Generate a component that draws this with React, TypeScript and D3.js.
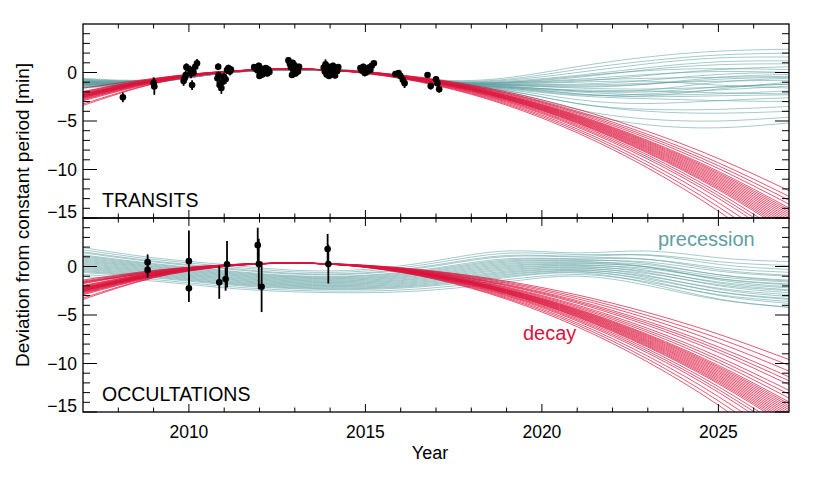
import React from 'react';
import * as d3 from 'd3';

// ---------------- data ----------------
const knotYears = [2007, 2009, 2011, 2013, 2015, 2017, 2019, 2021, 2023, 2025, 2027];

// orbital-decay model samples (deviation in minutes at knotYears)
const decayCurves: number[][] = [
  [-1.60, -0.61, 0.12, 0.35, 0.07, -0.71, -1.99, -3.78, -6.08, -8.87, -12.18],
  [-1.95, -0.65, 0.11, 0.35, 0.06, -0.76, -2.11, -3.98, -6.38, -9.31, -12.77],
  [-2.02, -0.68, 0.10, 0.35, 0.05, -0.79, -2.18, -4.11, -6.59, -9.61, -13.17],
  [-2.09, -0.71, 0.10, 0.35, 0.04, -0.83, -2.25, -4.24, -6.79, -9.90, -13.57],
  [-2.16, -0.75, 0.09, 0.35, 0.03, -0.86, -2.33, -4.37, -7.00, -10.19, -13.96],
  [-2.19, -0.76, 0.09, 0.35, 0.03, -0.88, -2.37, -4.44, -7.10, -10.34, -14.16],
  [-2.23, -0.78, 0.08, 0.35, 0.02, -0.89, -2.40, -4.51, -7.20, -10.48, -14.36],
  [-2.26, -0.79, 0.08, 0.35, 0.02, -0.91, -2.44, -4.57, -7.30, -10.63, -14.56],
  [-2.30, -0.81, 0.08, 0.35, 0.02, -0.93, -2.48, -4.64, -7.40, -10.78, -14.76],
  [-2.33, -0.82, 0.07, 0.35, 0.01, -0.94, -2.52, -4.70, -7.51, -10.92, -14.96],
  [-2.37, -0.84, 0.07, 0.35, 0.01, -0.96, -2.55, -4.77, -7.61, -11.07, -15.16],
  [-2.40, -0.85, 0.07, 0.35, 0.00, -0.98, -2.59, -4.83, -7.71, -11.22, -15.36],
  [-2.43, -0.87, 0.06, 0.35, 0.00, -0.99, -2.63, -4.90, -7.81, -11.36, -15.56],
  [-2.47, -0.88, 0.06, 0.35, -0.01, -1.01, -2.66, -4.96, -7.91, -11.51, -15.75],
  [-2.50, -0.90, 0.05, 0.35, -0.01, -1.03, -2.70, -5.03, -8.01, -11.66, -15.95],
  [-2.54, -0.91, 0.05, 0.35, -0.02, -1.05, -2.74, -5.10, -8.12, -11.80, -16.15],
  [-2.57, -0.93, 0.05, 0.35, -0.02, -1.06, -2.78, -5.16, -8.22, -11.95, -16.35],
  [-2.61, -0.94, 0.04, 0.35, -0.03, -1.08, -2.81, -5.23, -8.32, -12.09, -16.55],
  [-2.68, -0.97, 0.04, 0.35, -0.03, -1.11, -2.89, -5.36, -8.52, -12.39, -16.95],
  [-2.75, -1.00, 0.03, 0.35, -0.04, -1.15, -2.96, -5.49, -8.73, -12.68, -17.34],
  [-2.82, -1.03, 0.02, 0.35, -0.05, -1.18, -3.04, -5.62, -8.93, -12.97, -17.74],
  [-2.92, -1.08, 0.01, 0.35, -0.06, -1.23, -3.15, -5.82, -9.24, -13.41, -18.34],
  [-3.25, -1.13, 0.00, 0.35, -0.08, -1.28, -3.26, -6.01, -9.55, -13.85, -18.93],
  [-3.40, -1.17, -0.01, 0.35, -0.09, -1.33, -3.37, -6.21, -9.85, -14.29, -19.53],
];

// shallower decay samples only visible in the occultation panel
const decayOccultationExtra: number[][] = [
  [-1.39, -0.41, 0.17, 0.35, 0.13, -0.49, -1.51, -2.93, -4.75, -6.97, -9.59],
  [-1.50, -0.46, 0.16, 0.35, 0.12, -0.54, -1.62, -3.13, -5.06, -7.41, -10.19],
  [-1.60, -0.50, 0.15, 0.35, 0.10, -0.59, -1.73, -3.32, -5.36, -7.85, -10.78],
  [-1.70, -0.55, 0.14, 0.35, 0.09, -0.64, -1.85, -3.52, -5.67, -8.29, -11.38],
  [-1.77, -0.58, 0.13, 0.35, 0.08, -0.68, -1.92, -3.65, -5.87, -8.58, -11.78],
];

// apsidal-precession model samples, transits
const precessionTransit: number[][] = [
  [-0.6, -0.75, 0.05, 0.32, 0.12, -0.75, -0.55, 0.6, 1.6, 2.2, 2.4],
  [-0.7, -0.8, 0.05, 0.32, 0.1, -0.8, -0.7, 0.3, 1.2, 1.8, 2.0],
  [-0.9, -0.85, 0.0, 0.3, 0.1, -0.85, -0.8, 0.0, 0.9, 1.5, 1.6],
  [-0.8, -0.8, 0.02, 0.3, 0.08, -0.9, -0.9, -0.3, 0.5, 1.1, 1.2],
  [-1.0, -0.9, 0.0, 0.3, 0.08, -0.88, -1.0, -0.5, 0.3, 0.8, 0.9],
  [-1.1, -0.9, -0.02, 0.3, 0.06, -0.9, -1.1, -0.9, -0.3, 0.3, 0.6],
  [-1.2, -0.95, -0.03, 0.28, 0.05, -0.95, -1.0, -0.4, 0.2, 0.4, 0.3],
  [-1.3, -0.95, -0.05, 0.28, 0.05, -0.92, -1.2, -1.2, -0.8, -0.2, 0.0],
  [-1.0, -0.9, 0.0, 0.3, 0.06, -0.95, -1.3, -1.5, -1.2, -0.5, -0.2],
  [-1.4, -1.0, -0.06, 0.28, 0.04, -0.97, -1.1, -0.8, -0.6, -0.5, -0.4],
  [-1.2, -0.95, -0.04, 0.28, 0.04, -1.0, -1.4, -1.9, -1.8, -1.0, -0.6],
  [-1.5, -1.0, -0.06, 0.27, 0.03, -0.98, -1.25, -1.3, -1.1, -0.9, -0.8],
  [-0.9, -0.85, 0.0, 0.3, 0.05, -1.0, -1.5, -2.2, -2.4, -1.7, -1.0],
  [-1.3, -1.0, -0.05, 0.27, 0.03, -1.02, -1.35, -1.6, -1.7, -1.5, -1.2],
  [-1.1, -0.95, -0.03, 0.28, 0.04, -1.05, -1.6, -2.3, -2.2, -1.8, -1.4],
  [-1.6, -1.05, -0.08, 0.26, 0.02, -1.0, -1.2, -1.0, -0.9, -1.3, -1.6],
  [-1.2, -0.95, -0.04, 0.27, 0.03, -1.05, -1.55, -2.0, -2.3, -2.2, -1.9],
  [-1.4, -1.0, -0.06, 0.26, 0.02, -1.05, -1.5, -1.8, -1.9, -2.1, -2.2],
  [-1.0, -0.9, -0.02, 0.28, 0.03, -1.08, -1.75, -2.8, -3.2, -2.9, -2.6],
  [-1.5, -1.05, -0.07, 0.26, 0.01, -1.08, -1.7, -2.4, -2.7, -2.9, -3.0],
  [-0.8, -0.85, 0.01, 0.3, 0.03, -1.1, -1.85, -3.2, -3.8, -3.8, -3.5],
  [-1.2, -0.95, -0.04, 0.27, 0.01, -1.1, -1.9, -3.2, -4.0, -4.2, -4.0],
  [-0.7, -0.8, 0.02, 0.3, 0.02, -1.12, -2.0, -3.8, -4.8, -5.0, -4.6],
  [-1.0, -0.9, -0.02, 0.28, 0.0, -1.15, -2.1, -4.1, -5.4, -5.7, -5.2],
  [-1.1, -0.92, -0.03, 0.28, 0.04, -0.95, -1.05, -0.7, -0.2, 0.1, 0.0],
  [-1.3, -0.98, -0.05, 0.27, 0.03, -1.0, -1.3, -1.4, -1.2, -0.7, -0.5],
  [-0.9, -0.88, -0.01, 0.29, 0.05, -1.02, -1.45, -1.9, -2.0, -1.5, -1.2],
  [-1.2, -0.96, -0.04, 0.27, 0.02, -1.06, -1.6, -2.2, -2.5, -2.4, -2.3],
];

// apsidal-precession model samples, occultations
const precessionOccultation: number[][] = [
  [1.95, 0.90, 0.20, -0.39, -0.30, 0.60, 1.60, 1.40, 1.60, 0.90, 0.50],
  [1.73, 0.73, 0.03, -0.55, -0.47, 0.38, 1.37, 1.23, 1.16, 0.22, -0.30],
  [1.52, 0.56, -0.14, -0.71, -0.64, 0.17, 1.14, 1.06, 1.20, 0.50, 0.10],
  [1.41, 0.47, -0.23, -0.79, -0.73, 0.06, 1.03, 0.97, 0.74, -0.32, -0.90],
  [1.20, 0.30, -0.40, -0.95, -0.90, -0.15, 0.80, 0.80, 0.74, -0.12, -0.60],
  [1.09, 0.22, -0.48, -1.03, -0.98, -0.26, 0.68, 0.72, 0.32, -0.86, -1.50],
  [0.99, 0.13, -0.57, -1.10, -1.07, -0.37, 0.57, 0.63, 0.46, -0.48, -1.00],
  [0.88, 0.04, -0.66, -1.18, -1.16, -0.47, 0.46, 0.54, -0.04, -1.38, -2.10],
  [0.77, -0.04, -0.74, -1.26, -1.24, -0.58, 0.34, 0.46, 0.18, -0.84, -1.40],
  [0.66, -0.13, -0.83, -1.34, -1.33, -0.69, 0.23, 0.37, -0.08, -1.26, -1.90],
  [0.56, -0.21, -0.91, -1.42, -1.41, -0.79, 0.11, 0.29, -0.02, -1.04, -1.60],
  [0.45, -0.30, -1.00, -1.50, -1.50, -0.90, 0.00, 0.20, -0.40, -1.70, -2.40],
  [0.34, -0.39, -1.09, -1.58, -1.59, -1.01, -0.11, 0.11, -0.22, -1.24, -1.80],
  [0.24, -0.47, -1.17, -1.66, -1.67, -1.11, -0.23, 0.03, -0.64, -1.98, -2.70],
  [0.13, -0.56, -1.26, -1.74, -1.76, -1.22, -0.34, -0.06, -0.50, -1.60, -2.20],
  [0.02, -0.64, -1.34, -1.82, -1.84, -1.33, -0.46, -0.14, -0.92, -2.34, -3.10],
  [-0.09, -0.73, -1.43, -1.90, -1.93, -1.44, -0.57, -0.23, -0.74, -1.88, -2.50],
  [-0.19, -0.82, -1.52, -1.97, -2.02, -1.54, -0.68, -0.32, -1.16, -2.62, -3.40],
  [-0.30, -0.90, -1.60, -2.05, -2.10, -1.65, -0.80, -0.40, -1.02, -2.24, -2.90],
  [-0.41, -0.99, -1.69, -2.13, -2.19, -1.76, -0.91, -0.49, -1.44, -2.98, -3.80],
  [-0.51, -1.07, -1.77, -2.21, -2.27, -1.86, -1.03, -0.57, -1.30, -2.60, -3.30],
  [-0.62, -1.16, -1.86, -2.29, -2.36, -1.97, -1.14, -0.66, -1.72, -3.34, -4.20],
  [-0.83, -1.33, -2.03, -2.45, -2.53, -2.18, -1.37, -0.83, -1.60, -2.90, -3.60],
  [-1.05, -1.50, -2.20, -2.61, -2.70, -2.40, -1.60, -1.00, -1.96, -3.42, -4.20],
];

// measured transit timings
const transitYear = [
  2008.13, 2009.0, 2009.02,
  2009.85, 2009.88, 2009.91, 2009.93, 2010.03, 2010.06, 2010.09, 2010.13, 2010.18, 2010.23,
  2010.81, 2010.83, 2010.84, 2010.87, 2010.92, 2010.94, 2010.99, 2011.04, 2011.08, 2011.12, 2011.16, 2011.19,
  2011.85, 2011.9, 2011.95, 2011.98, 2012.02, 2012.05, 2012.08, 2012.11, 2012.15, 2012.18, 2012.22, 2012.25, 2012.28, 2012.0,
  2012.82, 2012.86, 2012.89, 2012.92, 2012.96, 2012.99, 2013.02, 2013.06, 2013.09, 2013.12, 2012.94,
  2013.82, 2013.85, 2013.87, 2013.9, 2013.93, 2013.96, 2013.99, 2014.02, 2014.05, 2014.08, 2014.11, 2014.14, 2014.17, 2014.2, 2014.23, 2013.97,
  2014.86, 2014.9, 2014.94, 2014.98, 2015.02, 2015.06, 2015.1, 2015.14, 2015.18, 2015.24,
  2015.85, 2015.94, 2015.99, 2016.06, 2016.11,
  2016.76, 2016.85, 2017.0, 2017.04, 2017.09,
];
const transitDev = [
  -2.56, -1.1, -1.45,
  -0.88, -0.6, -0.26, 0.55, 0.3, -0.1, -1.3, 0.0, 0.6, 0.95,
  -0.6, 0.6, -0.3, -1.3, -1.6, -1.0, -0.45, -0.7, 0.25, 0.45, 0.1, 0.3,
  0.55, 0.35, 0.2, 0.7, 0.0, 0.4, -0.2, 0.25, 0.1, 0.45, -0.1, 0.3, 0.05, -0.35,
  1.25, 0.9, 0.55, -0.25, 0.2, 0.75, -0.1, 0.4, 0.1, 0.6, 1.0,
  0.5, 0.1, 0.85, -0.2, 0.3, 0.6, -0.1, 0.4, 0.05, 0.7, 0.2, -0.3, 0.45, 0.15, 0.55, -0.35,
  0.45, 0.2, 0.6, -0.05, 0.35, 0.1, 0.5, 0.25, 0.7, 0.95,
  -0.15, -0.05, -0.35, -0.75, -1.1,
  -0.26, -1.4, -0.7, -1.1, -1.73,
];
const transitErr = [
  0.5, 0.6, 0.85,
  0.5, 0.4, 0.45, 0.4, 0.4, 0.5, 0.5, 0.35, 0.5, 0.45,
  0.5, 0.35, 0.4, 0.6, 0.6, 0.5, 0.4, 0.5, 0.4, 0.35, 0.4, 0.3,
  0.3, 0.3, 0.35, 0.3, 0.3, 0.3, 0.35, 0.3, 0.3, 0.3, 0.3, 0.3, 0.3, 0.3,
  0.35, 0.3, 0.3, 0.3, 0.3, 0.3, 0.3, 0.3, 0.3, 0.3, 0.3,
  0.35, 0.3, 0.5, 0.35, 0.3, 0.3, 0.3, 0.3, 0.3, 0.3, 0.3, 0.3, 0.3, 0.3, 0.3, 0.3,
  0.3, 0.3, 0.3, 0.35, 0.3, 0.4, 0.3, 0.3, 0.3, 0.3,
  0.3, 0.3, 0.3, 0.35, 0.5,
  0.3, 0.35, 0.35, 0.4, 0.35,
];

// measured occultation timings
const occultYear = [2008.83, 2008.83, 2010.0, 2010.0, 2010.86, 2011.04, 2011.08, 2011.95, 2011.98, 2012.06, 2013.93, 2013.95];
const occultDev = [0.45, -0.35, 0.55, -2.25, -1.63, -1.3, 0.23, 2.2, 0.25, -2.1, 1.8, 0.25];
const occultErr = [0.8, 0.8, 3.15, 1.4, 1.7, 1.2, 2.4, 1.8, 2.6, 2.6, 1.55, 2.0];

const xMajorTicks = [2010, 2015, 2020, 2025];
const yMajorTicks = [0, -5, -10, -15];

// ---------------- drawing ----------------
const FONT = "'Liberation Sans', Arial, Helvetica, sans-serif";
const RED = '#DC143C';
const TEAL = '#5F9EA0';
const LEFT = 83;
const RIGHT = 789;

const x = d3.scaleLinear().domain([2007, 2027]).range([LEFT, RIGHT]);

type PanelProps = {
  id: string;
  top: number;
  bottom: number;
  teal: number[][];
  red: number[][];
  ptX: number[];
  ptY: number[];
  ptE: number[];
  label: string;
};

function Panel({ id, top, bottom, teal, red, ptX, ptY, ptE, label }: PanelProps) {
  const y = d3.scaleLinear().domain([-15, 5]).range([bottom, top]);
  const line = d3
    .line<number>()
    .x((_, i) => x(knotYears[i]))
    .y((d) => y(d))
    .curve(d3.curveNatural);

  const xMinor = d3.range(2008, 2027).filter((v) => v % 5 !== 0);
  const yMinor = d3.range(-14, 5).filter((v) => v % 5 !== 0);

  return (
    <g>
      <defs>
        <clipPath id={id}>
          <rect x={LEFT} y={top} width={RIGHT - LEFT} height={bottom - top} />
        </clipPath>
      </defs>
      <g clipPath={`url(#${id})`}>
        {teal.map((c, i) => (
          <path key={'t' + i} d={line(c) || ''} fill="none" stroke={TEAL} strokeWidth={0.85} strokeOpacity={0.65} />
        ))}
        {red.map((c, i) => (
          <path key={'r' + i} d={line(c) || ''} fill="none" stroke={RED} strokeWidth={0.95} strokeOpacity={0.75} />
        ))}
        {ptX.map((v, i) => (
          <line
            key={'e' + i}
            x1={x(v)}
            x2={x(v)}
            y1={y(ptY[i] - ptE[i])}
            y2={y(ptY[i] + ptE[i])}
            stroke="#000"
            strokeWidth={1.8}
          />
        ))}
        {ptX.map((v, i) => (
          <circle key={'c' + i} cx={x(v)} cy={y(ptY[i])} r={3.3} fill="#000" />
        ))}
      </g>
      {/* frame */}
      <rect x={LEFT} y={top} width={RIGHT - LEFT} height={bottom - top} fill="none" stroke="#000" strokeWidth={1.3} />
      {/* x ticks */}
      {xMajorTicks.map((t) => (
        <g key={'xm' + t}>
          <line x1={x(t)} x2={x(t)} y1={bottom} y2={bottom - 8} stroke="#000" strokeWidth={1} />
          <line x1={x(t)} x2={x(t)} y1={top} y2={top + 8} stroke="#000" strokeWidth={1} />
        </g>
      ))}
      {xMinor.map((t) => (
        <g key={'xn' + t}>
          <line x1={x(t)} x2={x(t)} y1={bottom} y2={bottom - 4.5} stroke="#000" strokeWidth={1} />
          <line x1={x(t)} x2={x(t)} y1={top} y2={top + 4.5} stroke="#000" strokeWidth={1} />
        </g>
      ))}
      {/* y ticks */}
      {yMajorTicks.map((t) => (
        <g key={'ym' + t}>
          <line x1={LEFT} x2={LEFT + 14} y1={y(t)} y2={y(t)} stroke="#000" strokeWidth={1} />
          <line x1={RIGHT} x2={RIGHT - 14} y1={y(t)} y2={y(t)} stroke="#000" strokeWidth={1} />
          <text
            x={LEFT - 6}
            y={y(t) + (t === -15 ? -6 : 0)}
            dy="0.36em"
            textAnchor="end"
            fontFamily={FONT}
            fontSize={17.5}
            fill="#000"
          >
            {t < 0 ? '\u2212' + Math.abs(t) : String(t)}
          </text>
        </g>
      ))}
      {yMinor.map((t) => (
        <g key={'yn' + t}>
          <line x1={LEFT} x2={LEFT + 7} y1={y(t)} y2={y(t)} stroke="#000" strokeWidth={1} />
          <line x1={RIGHT} x2={RIGHT - 7} y1={y(t)} y2={y(t)} stroke="#000" strokeWidth={1} />
        </g>
      ))}
      <text x={102} y={bottom - 11.5} fontFamily={FONT} fontSize={19.5} fill="#000">
        {label}
      </text>
    </g>
  );
}

export default function App() {
  return (
    <svg
      width={830}
      height={485}
      viewBox="0 0 830 485"
      style={{ position: 'absolute', left: 0, top: 0, background: '#fff' }}
    >
      <rect x={0} y={0} width={830} height={485} fill="#fff" />
      <Panel
        id="clipTop"
        top={24}
        bottom={218}
        teal={precessionTransit}
        red={decayCurves}
        ptX={transitYear}
        ptY={transitDev}
        ptE={transitErr}
        label="TRANSITS"
      />
      <Panel
        id="clipBottom"
        top={218}
        bottom={412}
        teal={precessionOccultation}
        red={[...decayOccultationExtra, ...decayCurves]}
        ptX={occultYear}
        ptY={occultDev}
        ptE={occultErr}
        label="OCCULTATIONS"
      />
      {xMajorTicks.map((t) => (
        <text key={'xl' + t} x={x(t)} y={438} textAnchor="middle" fontFamily={FONT} fontSize={17.5} fill="#000">
          {t}
        </text>
      ))}
      <text x={430} y={459} textAnchor="middle" fontFamily={FONT} fontSize={18} fill="#000">
        Year
      </text>
      <text
        transform="translate(29,215) rotate(-90)"
        textAnchor="middle"
        fontFamily={FONT}
        fontSize={19}
        fill="#000"
      >
        Deviation from constant period [min]
      </text>
      <text x={658} y={246} fontFamily={FONT} fontSize={20} fill={TEAL}>
        precession
      </text>
      <text x={523} y={340} fontFamily={FONT} fontSize={20} fill={RED}>
        decay
      </text>
    </svg>
  );
}
